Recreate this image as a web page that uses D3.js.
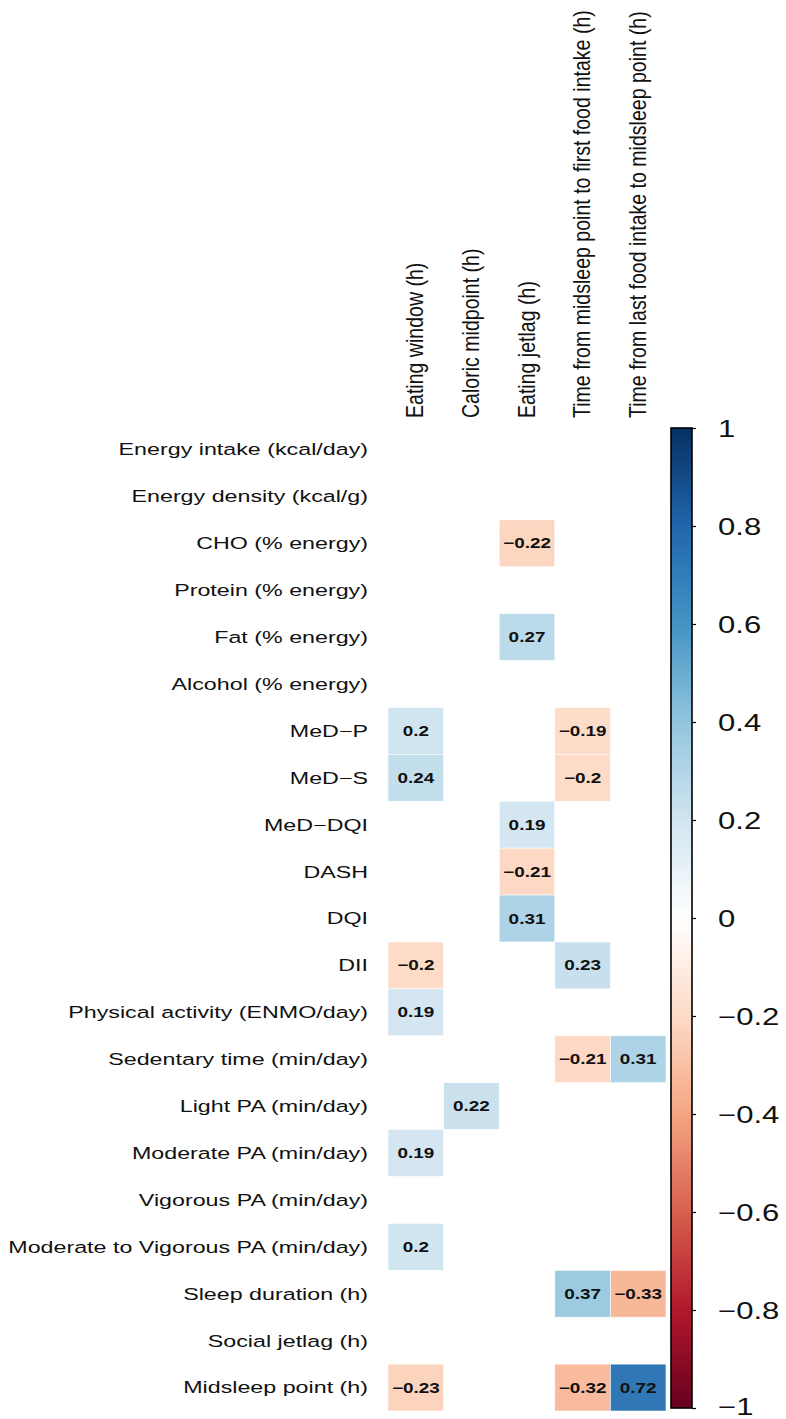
<!DOCTYPE html>
<html>
<head>
<meta charset="utf-8">
<script src="https://cdn.jsdelivr.net/npm/d3@7"></script>
<style>
  body { margin: 0; background: #fff; }
  text { font-family: "Liberation Sans", Arial, sans-serif; fill: #111; }
  .rowLabel { font-size: 16.5px; }
  .colLabel { font-size: 17px; }
  .cellLabel { font-size: 14px; font-weight: bold; }
  .cbLabel { font-size: 23px; }
</style>
</head>
<body>
<svg width="786" height="1419"></svg>
<script>
const rowNames = [
  "Energy intake (kcal/day)", "Energy density (kcal/g)", "CHO (% energy)",
  "Protein (% energy)", "Fat (% energy)", "Alcohol (% energy)", "MeD\u2212P",
  "MeD\u2212S", "MeD\u2212DQI", "DASH", "DQI", "DII",
  "Physical activity (ENMO/day)", "Sedentary time (min/day)",
  "Light PA (min/day)", "Moderate PA (min/day)", "Vigorous PA (min/day)",
  "Moderate to Vigorous PA (min/day)", "Sleep duration (h)",
  "Social jetlag (h)", "Midsleep point (h)"
];
const colNames = [
  "Eating window (h)", "Caloric midpoint (h)", "Eating jetlag (h)",
  "Time from midsleep point to first food intake (h)",
  "Time from last food intake to midsleep point (h)"
];
// significant correlations only, null = blank
const values = [
  [null, null, null, null, null],
  [null, null, null, null, null],
  [null, null, -0.22, null, null],
  [null, null, null, null, null],
  [null, null, 0.27, null, null],
  [null, null, null, null, null],
  [0.2, null, null, -0.19, null],
  [0.24, null, null, -0.2, null],
  [null, null, 0.19, null, null],
  [null, null, -0.21, null, null],
  [null, null, 0.31, null, null],
  [-0.2, null, null, 0.23, null],
  [0.19, null, null, null, null],
  [null, null, null, -0.21, 0.31],
  [null, 0.22, null, null, null],
  [0.19, null, null, null, null],
  [null, null, null, null, null],
  [0.2, null, null, null, null],
  [null, null, null, 0.37, -0.33],
  [null, null, null, null, null],
  [-0.23, null, null, -0.32, 0.72]
];
const legendTicks = [1, 0.8, 0.6, 0.4, 0.2, 0, -0.2, -0.4, -0.6, -0.8, -1];
const rdbu = ["#67001F", "#B2182B", "#D6604D", "#F4A582", "#FDDBC7", "#FFFFFF",
              "#D1E5F0", "#92C5DE", "#4393C3", "#2166AC", "#053061"];

const svg = d3.select("svg");

// layout
const gridLeft = 388, gridRight = 666, gridTop = 426, gridBottom = 1411;
const cbLeft = 671, cbWidth = 21, cbTop = 428, cbBottom = 1408;
const stretch = 1.41; // text in the original is drawn wide

const x = d3.scaleBand().domain(colNames).range([gridLeft, gridRight]);
const y = d3.scaleBand().domain(rowNames).range([gridTop, gridBottom]);
const colour = d3.scaleLinear()
  .domain(d3.range(11).map(i => -1 + i * 0.2))
  .range(rdbu);

const fmt = v => String(v).replace("-", "\u2212");

// flatten cells
const cells = [];
values.forEach((row, i) => row.forEach((v, j) => {
  if (v !== null) cells.push({ row: rowNames[i], col: colNames[j], value: v });
}));

svg.append("g").selectAll("rect")
  .data(cells)
  .enter()
  .append("rect")
  .attr("x", d => x(d.col))
  .attr("y", d => y(d.row))
  .attr("width", x.bandwidth())
  .attr("height", y.bandwidth())
  .attr("fill", d => colour(d.value))
  .attr("stroke", "#fff")
  .attr("stroke-width", 0.6);

svg.append("g").selectAll("text")
  .data(cells)
  .enter()
  .append("text")
  .attr("class", "cellLabel")
  .attr("transform", d => "translate(" + (x(d.col) + x.bandwidth() / 2) + "," +
    (y(d.row) + y.bandwidth() / 2) + ") scale(1.35,1)")
  .attr("dy", "0.36em")
  .attr("text-anchor", "middle")
  .text(d => fmt(d.value));

// row labels
svg.append("g").selectAll("text")
  .data(rowNames)
  .enter()
  .append("text")
  .attr("class", "rowLabel")
  .attr("transform", d => "translate(368," + (y(d) + y.bandwidth() / 2) + ") scale(" + stretch + ",1)")
  .attr("dy", "0.36em")
  .attr("text-anchor", "end")
  .text(d => d);

// column labels (rotated)
svg.append("g").selectAll("text")
  .data(colNames)
  .enter()
  .append("text")
  .attr("class", "colLabel")
  .attr("transform", d => "translate(" + (x(d) + x.bandwidth() / 2 + 7.5) + ",418) scale(1.37,1.15) rotate(-90)")
  .text(d => d);

// colour bar
const cbScale = d3.scaleLinear().domain([1, -1]).range([cbTop, cbBottom]);
const grad = svg.append("defs").append("linearGradient")
  .attr("id", "cbGrad")
  .attr("x1", 0).attr("y1", 0).attr("x2", 0).attr("y2", 1);
grad.selectAll("stop")
  .data(colour.domain().slice().reverse())
  .enter()
  .append("stop")
  .attr("offset", d => (cbScale(d) - cbTop) / (cbBottom - cbTop))
  .attr("stop-color", d => colour(d));

svg.append("rect")
  .attr("x", cbLeft)
  .attr("y", cbTop)
  .attr("width", cbWidth)
  .attr("height", cbBottom - cbTop)
  .attr("fill", "url(#cbGrad)")
  .attr("stroke", "#000")
  .attr("stroke-width", 1.6);

const cbAxis = d3.axisRight(cbScale)
  .tickValues(legendTicks)
  .tickSize(4)
  .tickFormat(d => fmt(d));

const axisG = svg.append("g")
  .attr("transform", "translate(" + (cbLeft + cbWidth) + ",0)")
  .call(cbAxis);
axisG.select(".domain").remove();
axisG.selectAll(".tick line").attr("stroke", "#000").attr("stroke-width", 1.2);
axisG.selectAll(".tick text")
  .attr("class", "cbLabel")
  .attr("x", 0)
  .attr("dy", d => d === -1 ? "0.3em" : "0.36em")
  .attr("transform", "translate(26,0) scale(1.35,1)")
  .attr("fill", "#111");
</script>
</body>
</html>
